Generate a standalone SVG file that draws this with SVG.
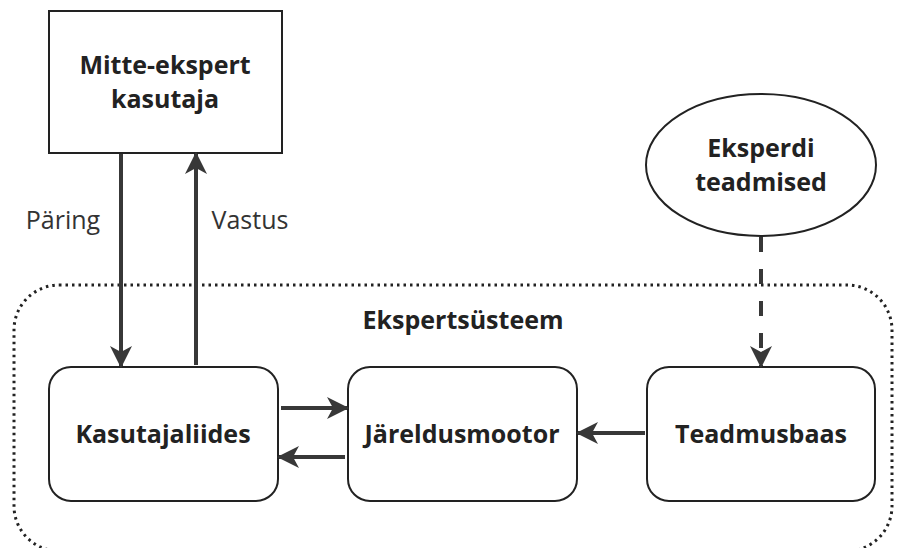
<svg xmlns="http://www.w3.org/2000/svg" width="905" height="548" viewBox="0 0 905 548">
  <style>
    .box { fill: #ffffff; stroke: #222222; stroke-width: 2; }
    .label { font-family: "Open Sans", "Noto Sans", "Liberation Sans", sans-serif; font-size: 25px; font-weight: bold; fill: #222222; text-anchor: middle; }
    .edge-label { font-family: "Open Sans", "Noto Sans", "Liberation Sans", sans-serif; font-size: 25px; fill: #333333; text-anchor: middle; }
    .link { stroke: #383838; stroke-width: 4; fill: none; }
    .dashed { stroke-dasharray: 15 17; }
    .boundary { fill: none; stroke: #222222; stroke-width: 3; stroke-dasharray: 2.5 4; }
  </style>
  <defs>
    <marker id="arrow" viewBox="0 0 22 22" refX="20" refY="11" markerWidth="22" markerHeight="22" markerUnits="userSpaceOnUse" orient="auto">
      <path d="M0,0 L22,11 L0,22 L6,11 Z" fill="#383838"/>
    </marker>
  </defs>
  <rect width="905" height="548" fill="#ffffff"/>

  <!-- system boundary -->
  <g id="ekspertsysteem">
    <rect class="boundary" x="14" y="285" width="878" height="266" rx="45" ry="45"/>
    <text class="label" x="463" y="329">Ekspertsüsteem</text>
  </g>

  <g id="mitte-ekspert">
    <rect class="box" x="49" y="11" width="233" height="142"/>
    <text class="label" x="165" y="74">Mitte-ekspert</text>
    <text class="label" x="165" y="108">kasutaja</text>
  </g>

  <g id="eksperdi-teadmised">
    <ellipse class="box" cx="761" cy="165" rx="115" ry="71"/>
    <text class="label" x="761" y="157">Eksperdi</text>
    <text class="label" x="761" y="191">teadmised</text>
  </g>

  <g id="kasutajaliides">
    <rect class="box" x="49" y="367" width="229" height="134" rx="22" ry="22"/>
    <text class="label" x="163" y="443">Kasutajaliides</text>
  </g>

  <g id="jareldusmootor">
    <rect class="box" x="348" y="367" width="229" height="134" rx="22" ry="22"/>
    <text class="label" x="462" y="443">Järeldusmootor</text>
  </g>

  <g id="teadmusbaas">
    <rect class="box" x="647" y="367" width="228" height="134" rx="22" ry="22"/>
    <text class="label" x="761" y="443">Teadmusbaas</text>
  </g>

  <g id="connectors">
    <line class="link" x1="121" y1="154" x2="121" y2="366" marker-end="url(#arrow)"/>
    <line class="link" x1="196" y1="365" x2="196" y2="154" marker-end="url(#arrow)"/>
    <line class="link dashed" x1="761" y1="237" x2="761" y2="366" marker-end="url(#arrow)"/>
    <line class="link" x1="281" y1="408" x2="347" y2="408" marker-end="url(#arrow)"/>
    <line class="link" x1="345" y1="457" x2="279" y2="457" marker-end="url(#arrow)"/>
    <line class="link" x1="645" y1="433" x2="578" y2="433" marker-end="url(#arrow)"/>
    <text class="edge-label" x="63" y="229">Päring</text>
    <text class="edge-label" x="250" y="229">Vastus</text>
  </g>
</svg>
